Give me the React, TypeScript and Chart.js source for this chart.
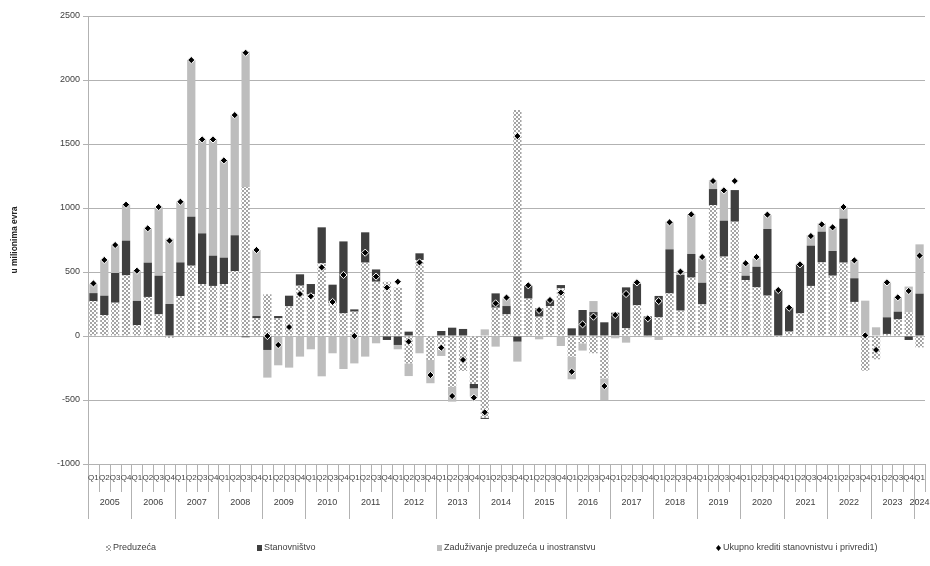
import React, { useEffect, useRef } from "react";
import { Chart, registerables } from "chart.js";

Chart.register(...registerables);

// Quarterly flows, millions of euro
const years = [
  "2005", "2006", "2007", "2008", "2009", "2010", "2011", "2012", "2013", "2014",
  "2015", "2016", "2017", "2018", "2019", "2020", "2021", "2022", "2023", "2024",
];
const quarterNames = ["Q1", "Q2", "Q3", "Q4"];

const preduzeca = [
  273, 164, 260, 474, 86, 305, 169, -15, 312, 549, 406, 391, 406, 508, 1165, 138,
  326, 138, 232, 393, 328, 568, 255, 177, 190, 573, 424, 424, 378, -214, 594, -187,
  -109, -396, -273, -375, -638, 221, 169, 1766, 292, 151, 234, 372, -161, -57, -135, -331,
  5, 60, 240, 3, 146, 333, 198, 456, 247, 1023, 620, 893, 437, 380, 315, -8,
  34, 177, 391, 575, 471, 573, 266, -271, -182, 16, 130, 185, -89,
];

const stanovnistvo = [
  62, 151, 232, 271, 188, 268, 302, 250, 263, 383, 396, 237, 206, 279, -10, 18,
  -109, 18, 83, 89, 78, 281, 146, 562, 18, 237, 96, -31, -70, 34, 52, 0,
  39, 65, 55, -34, -10, 112, 65, -44, 102, 65, 47, 26, 60, 203, 187, 107,
  177, 320, 167, 150, 167, 344, 279, 185, 169, 125, 281, 247, 34, 161, 521, 359,
  187, 383, 315, 240, 193, 344, 185, 0, 0, 130, 60, -31, 331,
];

const zaduzivanje = [
  70, 279, 219, 281, 237, 268, 536, 510, 474, 1224, 734, 909, 760, 940, 1058, 516,
  -216, -229, -247, -161, -104, -315, -135, -258, -214, -161, -57, 0, -34, -99, -135, -182,
  -47, -117, 0, -65, 52, -83, 60, -156, 0, -26, 0, -78, -177, -57, 86, -169,
  -18, -52, 13, -10, -31, 216, 26, 312, 190, 70, 240, 0, 91, 65, 109, 0,
  0, 0, 83, 65, 190, 89, 143, 276, 68, 271, 112, 201, 385,
];

const ukupno = [
  411, 594, 711, 1026, 510, 841, 1008, 745, 1049, 2156, 1536, 1536, 1372, 1726, 2213, 672,
  0, -70, 70, 328, 310, 536, 266, 477, 0, 651, 464, 378, 424, -44, 575, -305,
  -91, -469, -187, -482, -596, 255, 300, 1562, 396, 203, 281, 339, -279, 91, 151, -391,
  164, 328, 419, 138, 273, 888, 503, 950, 617, 1211, 1138, 1211, 568, 617, 948, 359,
  221, 560, 781, 872, 849, 1008, 591, 5, -109, 419, 302, 352, 628,
];

const seriesNames = [
  "Preduzeća",
  "Stanovništvo",
  "Zaduživanje preduzeća u inostranstvu",
  "Ukupno krediti stanovnistvu i privredi1)",
];

const yAxisTitle = "u milionima evra";

const categories = years
  .flatMap((y) => quarterNames.map((q) => `${q} ${y}`))
  .slice(0, preduzeca.length);

const FONT = "'Liberation Sans Narrow', 'Liberation Sans', Arial, sans-serif";
const DARK = "#3f3f3f";
const LIGHT = "#bdbdbd";
const GRID = "#b2b2b2";
const TEXT = "#404040";

function makeChecker(): CanvasPattern | string {
  const pc = document.createElement("canvas");
  pc.width = 4;
  pc.height = 4;
  const p = pc.getContext("2d");
  if (!p) return "#d0d0d0";
  p.fillStyle = "#ffffff";
  p.fillRect(0, 0, 4, 4);
  p.fillStyle = "#a4a4a4";
  p.fillRect(0, 0, 2, 2);
  p.fillRect(2, 2, 2, 2);
  return p.createPattern(pc, "repeat") || "#d0d0d0";
}

// Two-row category axis: quarter labels, then years with longer separators
const quarterAxisPlugin = {
  id: "quarterAxis",
  afterDraw(chart: any) {
    const { ctx, chartArea } = chart;
    const x = chart.scales.x;
    const n = categories.length;
    const top = chartArea.bottom;
    const half = (x.getPixelForValue(1) - x.getPixelForValue(0)) / 2;
    ctx.save();
    ctx.strokeStyle = GRID;
    ctx.lineWidth = 1;
    for (let i = 0; i <= n; i++) {
      const px = i < n ? x.getPixelForValue(i) - half : x.getPixelForValue(n - 1) + half;
      const isYear = i % 4 === 0;
      const xx = Math.round(px) + 0.5;
      ctx.beginPath();
      ctx.moveTo(xx, top);
      ctx.lineTo(xx, isYear ? top + 55 : top + 28);
      ctx.stroke();
    }
    ctx.fillStyle = TEXT;
    ctx.textAlign = "center";
    ctx.textBaseline = "middle";
    ctx.font = `8px ${FONT}`;
    categories.forEach((c, i) => {
      ctx.fillText(c.split(" ")[0], x.getPixelForValue(i), top + 14);
    });
    ctx.font = `9px ${FONT}`;
    years.forEach((y, k) => {
      const first = k * 4;
      if (first >= n) return;
      const last = Math.min(first + 3, n - 1);
      const cx = (x.getPixelForValue(first) + x.getPixelForValue(last)) / 2;
      ctx.fillText(y, cx, top + 39);
    });
    ctx.restore();
  },
};

function makeLegendPlugin(pattern: CanvasPattern | string) {
  return {
    id: "bottomLegend",
    afterDraw(chart: any) {
      const { ctx } = chart;
      const y = 548;
      const items = [
        { x: 106, kind: "pattern" },
        { x: 257, kind: "dark" },
        { x: 437, kind: "light" },
        { x: 716, kind: "diamond" },
      ];
      ctx.save();
      ctx.font = `9px ${FONT}`;
      ctx.textBaseline = "middle";
      ctx.textAlign = "left";
      items.forEach((it, idx) => {
        if (it.kind === "diamond") {
          ctx.fillStyle = "#000";
          ctx.beginPath();
          ctx.moveTo(it.x + 2.5, y - 3);
          ctx.lineTo(it.x + 5, y);
          ctx.lineTo(it.x + 2.5, y + 3);
          ctx.lineTo(it.x, y);
          ctx.closePath();
          ctx.fill();
        } else {
          ctx.fillStyle =
            it.kind === "pattern" ? pattern : it.kind === "dark" ? DARK : LIGHT;
          ctx.fillRect(it.x, y - 3, 5, 6);
        }
        ctx.fillStyle = TEXT;
        ctx.fillText(seriesNames[idx], it.x + 7, y);
      });
      ctx.restore();
    },
  };
}

export default function App() {
  const canvasRef = useRef<HTMLCanvasElement | null>(null);

  useEffect(() => {
    const canvas = canvasRef.current;
    if (!canvas) return;
    const pattern = makeChecker();

    const chart = new Chart(canvas, {
      type: "bar",
      data: {
        labels: categories,
        datasets: [
          {
            type: "line",
            label: seriesNames[3],
            data: ukupno,
            showLine: false,
            pointStyle: "rectRot",
            pointRadius: 3.6,
            pointBackgroundColor: "#000000",
            pointBorderColor: "#ffffff",
            pointBorderWidth: 1,
            stack: "total",
            order: 0,
          } as any,
          {
            label: seriesNames[0],
            data: preduzeca,
            backgroundColor: pattern as any,
            stack: "bars",
            order: 1,
          },
          {
            label: seriesNames[1],
            data: stanovnistvo,
            backgroundColor: DARK,
            stack: "bars",
            order: 1,
          },
          {
            label: seriesNames[2],
            data: zaduzivanje,
            backgroundColor: LIGHT,
            stack: "bars",
            order: 1,
          },
        ],
      },
      options: {
        responsive: false,
        animation: false,
        layout: { padding: { top: 16, right: 0, bottom: 0, left: 0 } },
        datasets: {
          bar: { barPercentage: 0.76, categoryPercentage: 1.0, borderWidth: 0 },
        },
        plugins: {
          legend: { display: false },
          tooltip: { enabled: false },
        },
        scales: {
          x: {
            stacked: true,
            grid: { display: false },
            border: { display: false },
            ticks: { display: false },
            afterFit(scale: any) {
              scale.height = 102;
            },
          },
          y: {
            stacked: true,
            min: -1000,
            max: 2500,
            ticks: {
              stepSize: 500,
              color: TEXT,
              font: { family: FONT, size: 9 },
              padding: 3,
              callback: (v: any) => String(v),
            },
            grid: { color: GRID, tickLength: 5 },
            border: { color: GRID },
            title: {
              display: true,
              text: yAxisTitle,
              color: "#222222",
              font: { family: "'Liberation Sans', Arial, sans-serif", size: 8.5, weight: "bold" },
              padding: { top: 10, bottom: 0 },
            },
            afterFit(scale: any) {
              scale.width = 88;
            },
          },
        },
      },
      plugins: [quarterAxisPlugin, makeLegendPlugin(pattern)],
    });

    return () => chart.destroy();
  }, []);

  return (
    <div style={{ position: "fixed", left: 0, top: 0, width: 930, height: 566, background: "#fff" }}>
      <canvas ref={canvasRef} width={930} height={566} style={{ display: "block" }} />
    </div>
  );
}
